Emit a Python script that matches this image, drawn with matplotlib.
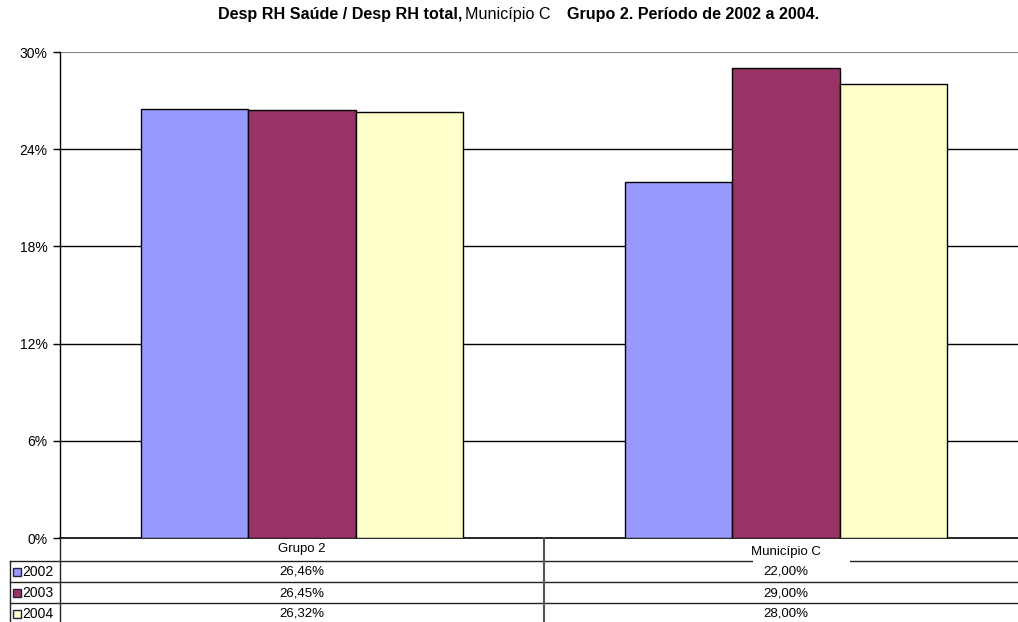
import matplotlib
matplotlib.use('Agg')
import matplotlib.pyplot as plt
from matplotlib.transforms import blended_transform_factory
from matplotlib.lines import Line2D
from matplotlib.patches import Rectangle
import numpy as np

categories = ['Grupo 2', 'Município C']
years = ['2002', '2003', '2004']
v2002 = [26.46, 22.00]
v2003 = [26.45, 29.00]
v2004 = [26.32, 28.00]
series = [v2002, v2003, v2004]
colors = ['#9999FF', '#993366', '#FFFFCC']
yticks = [0, 6, 12, 18, 24, 30]

plt.rcParams['font.family'] = ['Liberation Sans', 'DejaVu Sans']

W, H = 1018, 622
fig = plt.figure(figsize=(W / 100, H / 100), dpi=100)
ax = fig.add_axes([60 / W, 84 / H, 968 / W, 486 / H])

x = np.arange(len(categories))
bw = 0.222
for i, (vals, c) in enumerate(zip(series, colors)):
    ax.bar(x + (i - 1) * bw, vals, width=bw, color=c, edgecolor='black', linewidth=1, zorder=3)

ax.set_xlim(-0.5, 1.5)
ax.set_ylim(0, 30)
ax.set_yticks(yticks)
ax.set_yticklabels([f'{t}%' for t in yticks], fontsize=10)
ax.set_xticks([])
for t in yticks[1:-1]:
    ax.axhline(t, color='black', lw=1, zorder=1)
ax.axhline(30, color='#808080', lw=1.5, zorder=1)
ax.spines['top'].set_visible(False)
ax.spines['right'].set_visible(False)
ax.spines['left'].set_linewidth(1)
ax.spines['bottom'].set_linewidth(1.2)
ax.tick_params(axis='y', length=5, width=1, pad=4, colors='black')

# title with mixed weights
tfs = 11.6
fig.text(462 / W, 1 - 14 / H, 'Desp RH Saúde / Desp RH total,', fontsize=tfs,
         fontweight='bold', ha='right', va='center')
fig.text(465 / W, 1 - 14 / H, 'Município C', fontsize=tfs, fontweight='normal',
         ha='left', va='center')
fig.text(567 / W, 1 - 14 / H, 'Grupo 2. Período de 2002 a 2004.', fontsize=tfs,
         fontweight='bold', ha='left', va='center')

# table lines (pixel coordinates)
def fx(px):
    return px / W

def fy(py):
    return 1 - py / H

lc = '#222222'
for yy in [561, 582, 603]:
    fig.add_artist(Line2D([fx(10), fx(1018)], [fy(yy), fy(yy)], color=lc, lw=1, zorder=2))
fig.add_artist(Line2D([fx(60), fx(60)], [fy(538), fy(622)], color=lc, lw=1, zorder=2))
fig.add_artist(Line2D([fx(10), fx(10)], [fy(561), fy(622)], color=lc, lw=1, zorder=2))
fig.add_artist(Line2D([fx(544), fx(544)], [fy(538), fy(622)], color='#555555', lw=1.5, zorder=2))

trans = blended_transform_factory(ax.transData, fig.transFigure)
fig.text(0, fy(549), categories[0], transform=trans, ha='center', va='center', fontsize=9.5)
# white label box over the header line (as in the reference)
fig.add_artist(Rectangle((fx(753), fy(563)), 97 / W, 18 / H, facecolor='white',
                         edgecolor='none', zorder=5))
fig.text(1, fy(552), categories[1], transform=trans, ha='center', va='center',
         fontsize=9.5, zorder=6)

row_y = [572, 593, 614]
for vals, yr, c, yy in zip(series, years, colors, row_y):
    for xi, v in zip(x, vals):
        fig.text(xi, fy(yy), f'{v:.2f}%'.replace('.', ','), transform=trans, ha='center',
                 va='center', fontsize=9.5)
    fig.add_artist(Rectangle((fx(13), fy(yy + 4)), 8 / W, 8 / H, facecolor=c,
                             edgecolor='#222244', lw=1))
    fig.text(fx(22), fy(yy), yr, fontsize=10, ha='left', va='center')

fig.savefig('out.png', dpi=100)
